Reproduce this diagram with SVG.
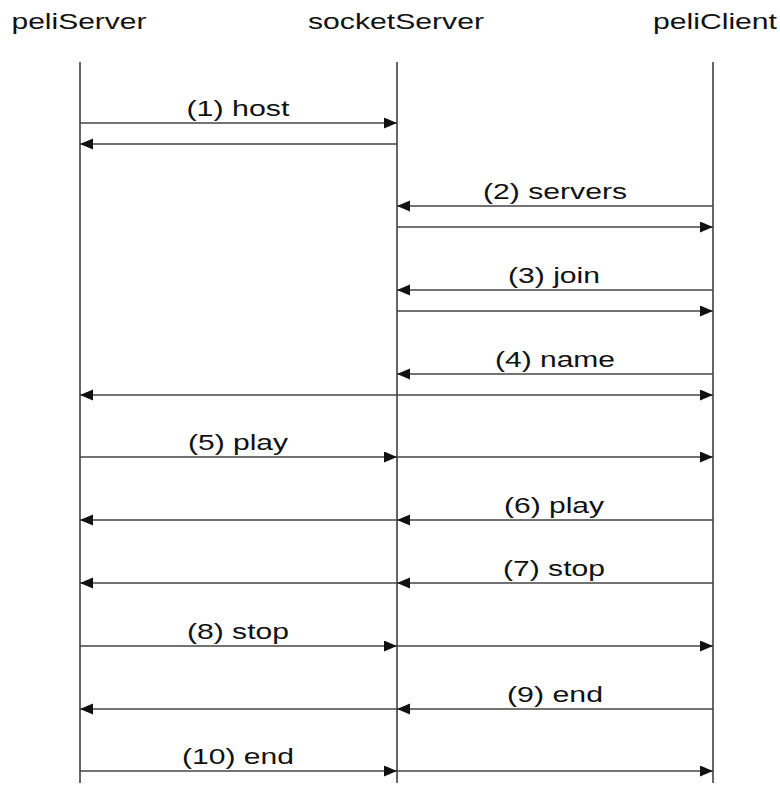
<svg xmlns="http://www.w3.org/2000/svg" width="780" height="790" viewBox="0 0 780 790">
<style>
  text { font-family: "Liberation Sans", Arial, sans-serif; font-size: 22px; fill: #111; text-anchor: middle; }
  .life { stroke: #666; stroke-width: 2; fill: none; }
  .msg { stroke: #444; stroke-width: 1.6; fill: none; marker-end: url(#ah); }
</style>
<defs>
  <marker id="ah" markerUnits="userSpaceOnUse" markerWidth="14" markerHeight="12" refX="13" refY="5.5" orient="auto">
    <path d="M0,0 L13,5.5 L0,11 Z" fill="#111"/>
  </marker>
</defs>
<rect width="780" height="790" fill="#fff"/>
<g id="peliServer">
  <line class="life" x1="80" y1="62" x2="80" y2="783"/>
  <text x="79" y="29" textLength="135" lengthAdjust="spacingAndGlyphs">peliServer</text>
</g>
<g id="socketServer">
  <line class="life" x1="397" y1="62" x2="397" y2="783"/>
  <text x="396" y="29" textLength="176" lengthAdjust="spacingAndGlyphs">socketServer</text>
</g>
<g id="peliClient">
  <line class="life" x1="713" y1="62" x2="713" y2="783"/>
  <text x="715" y="29" textLength="124" lengthAdjust="spacingAndGlyphs">peliClient</text>
</g>
<g id="connectors">
  <line class="msg" x1="80" y1="123" x2="397" y2="123"/>
  <line class="msg" x1="397" y1="144" x2="80" y2="144"/>
  <line class="msg" x1="713" y1="206" x2="397" y2="206"/>
  <line class="msg" x1="397" y1="227" x2="713" y2="227"/>
  <line class="msg" x1="713" y1="290" x2="397" y2="290"/>
  <line class="msg" x1="397" y1="311" x2="713" y2="311"/>
  <line class="msg" x1="713" y1="374" x2="397" y2="374"/>
  <line class="msg" x1="397" y1="395" x2="80" y2="395"/>
  <line class="msg" x1="397" y1="395" x2="713" y2="395"/>
  <line class="msg" x1="80" y1="457" x2="397" y2="457"/>
  <line class="msg" x1="397" y1="457" x2="713" y2="457"/>
  <line class="msg" x1="713" y1="520" x2="397" y2="520"/>
  <line class="msg" x1="397" y1="520" x2="80" y2="520"/>
  <line class="msg" x1="713" y1="583" x2="397" y2="583"/>
  <line class="msg" x1="397" y1="583" x2="80" y2="583"/>
  <line class="msg" x1="80" y1="646" x2="397" y2="646"/>
  <line class="msg" x1="397" y1="646" x2="713" y2="646"/>
  <line class="msg" x1="713" y1="709" x2="397" y2="709"/>
  <line class="msg" x1="397" y1="709" x2="80" y2="709"/>
  <line class="msg" x1="80" y1="771" x2="397" y2="771"/>
  <line class="msg" x1="397" y1="771" x2="713" y2="771"/>
  <text x="238" y="116" textLength="103" lengthAdjust="spacingAndGlyphs">(1) host</text>
  <text x="555" y="199" textLength="144" lengthAdjust="spacingAndGlyphs">(2) servers</text>
  <text x="554" y="283" textLength="92" lengthAdjust="spacingAndGlyphs">(3) join</text>
  <text x="555" y="367" textLength="120" lengthAdjust="spacingAndGlyphs">(4) name</text>
  <text x="238" y="450" textLength="100" lengthAdjust="spacingAndGlyphs">(5) play</text>
  <text x="554" y="513" textLength="100" lengthAdjust="spacingAndGlyphs">(6) play</text>
  <text x="554" y="576" textLength="102" lengthAdjust="spacingAndGlyphs">(7) stop</text>
  <text x="238" y="639" textLength="102" lengthAdjust="spacingAndGlyphs">(8) stop</text>
  <text x="555" y="702" textLength="96" lengthAdjust="spacingAndGlyphs">(9) end</text>
  <text x="238" y="764" textLength="112" lengthAdjust="spacingAndGlyphs">(10) end</text>
</g>
</svg>
